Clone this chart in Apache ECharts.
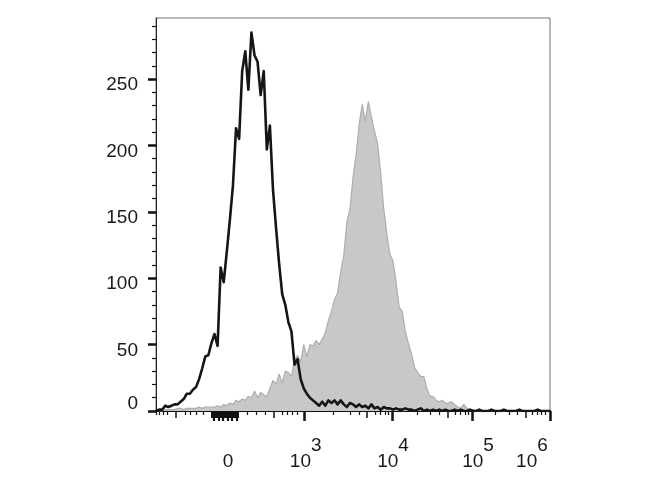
<!DOCTYPE html>
<html><head><meta charset="utf-8">
<script src="https://cdn.jsdelivr.net/npm/echarts@6/dist/echarts.min.js"></script>
<style>html,body{margin:0;padding:0;background:#fff}#c{width:670px;height:500px}</style>
</head><body><div id="c"></div>
<script>
// display channels (biexponential display scale, 0..1024)
const channels = [0,8,16,24,32,40,48,56,64,72,80,88,96,104,112,120,128,136,144,152,160,168,176,184,192,200,208,216,224,232,240,248,256,264,272,280,288,296,304,312,320,328,336,344,352,360,368,376,384,392,400,408,416,424,432,440,448,456,464,472,480,488,496,504,512,520,528,536,544,552,560,568,576,584,592,600,608,616,624,632,640,648,656,664,672,680,688,696,704,712,720,728,736,744,752,760,768,776,784,792,800,808,816,824,832,840,848,856,864,872,880,888,896,904,912,920,928,936,944,952,960,968,976,984,992,1000,1008,1016,1024];
// unstained / control (black outline)
const control = [0,1,1,4,3,4,5,5,7,9,
13,13,16,18,24,32,41,42,51,58,
49,108,97,120,144,170,213,205,256,271,
242,285,268,263,238,256,197,215,167,138,
111,88,80,67,60,35,39,24,17,13,
10,8,6,4,7,4,8,6,8,5,
8,5,3,6,5,3,5,3,4,2,
5,2,3,1,3,2,2,1,2,1,
1,2,1,1,0,1,2,0,1,0,
1,0,1,0,1,0,0,1,0,1,
0,0,1,0,0,1,0,0,0,1,
0,0,0,1,0,0,0,0,1,0,
0,0,0,0,1,0,0,0,0];
// stained sample (grey filled)
const stained = [0,0,0,1,1,1,1,2,2,1,
2,2,2,2,3,2,3,3,3,3,
4,3,5,4,6,5,8,7,9,8,
11,10,15,10,14,12,11,17,23,20,
28,21,30,29,26,38,42,37,50,41,
50,49,53,50,54,59,68,75,84,89,
105,117,142,152,176,193,216,231,218,233,
221,211,201,179,152,133,118,113,97,78,
75,60,51,43,33,29,26,26,17,11,
11,8,7,8,6,6,7,5,3,2,
5,2,1,1,0,0,0,0,0,0,
0,0,0,0,0,0,0,0,0,0,
0,0,0,0,0,0,0,0,0];

const yMax = 296;
const yMajorTicks = [0,50,100,150,200,250];
const yMinorTicks = [10,20,30,40,60,70,80,90,110,120,130,140,160,170,180,190,210,220,230,240,260,270,280,290];
const xDecadeTicks = [385,613,821,1024];
const xZeroLongTicks = [150,162,174,186,198,210];
const xZeroShortTicks = [146,154,158,166,170,178,182,190,194,202,206,213];
const xHalfTicks = [52,307,548,759,962];
const xMinorTicks = [0,8,18,29,75,88,104,122,237,260,283,328,341,354,367,460,504,528,569,582,595,603,678,712,736,777,790,803,811,881,917,938,977,990,1001,1011];
const xLabelPos = [187,389,616,837,977];
const xLabelText = ['0','10^3','10^4','10^5','10^6'];

const font = "'Liberation Sans', Arial, Helvetica, sans-serif";
const chart = echarts.init(document.getElementById('c'), null, {renderer:'canvas'});

function tickAxis(values, len, width) {
  return {type:'value', min:0, max:1024, position:'bottom',
    axisLine:{show:false}, splitLine:{show:false}, axisLabel:{show:false},
    axisTick:{show:true, customValues: values, length: len, lineStyle:{color:'#111', width: width}}};
}

const option = {
  animation: false,
  backgroundColor: '#fff',
  grid: {left:156, right:120, top:18, bottom:89, show:true, borderColor:'#707070', borderWidth:1, backgroundColor:'transparent'},
  xAxis: [
    {type:'value', min:0, max:1024, position:'bottom',
     axisLine:{show:true, lineStyle:{color:'#111', width:2}},
     splitLine:{show:false},
     axisTick:{show:true, customValues:xDecadeTicks, length:10, lineStyle:{color:'#111', width:2.5}},
     axisLabel:{show:true, customValues:xLabelPos, margin:25, fontFamily:font, fontSize:19, color:'#1a1a1a',
       formatter: function(v){
         let k = xLabelPos.indexOf(v);
         if (k < 0) return '';
         const t = xLabelText[k];
         if (t.indexOf('^') >= 0) { const p = t.split('^'); return '{b|' + p[0] + '}{s|' + p[1] + '}'; }
         return '{b|' + t + '}';
       },
       rich:{ b:{fontFamily:font, fontSize:19, color:'#1a1a1a', lineHeight:52},
              s:{fontFamily:font, fontSize:19, color:'#1a1a1a', verticalAlign:'top'} }
     }},
    tickAxis(xZeroLongTicks, 10, 2.2),
    tickAxis(xZeroShortTicks, 7, 2),
    tickAxis(xHalfTicks, 7, 1.5),
    tickAxis(xMinorTicks, 4, 1.2)
  ],
  yAxis: [
    {type:'value', min:0, max:yMax, position:'left',
     axisLine:{show:true, lineStyle:{color:'#222', width:1}},
     splitLine:{show:false},
     axisTick:{show:true, customValues:yMajorTicks, length:8, lineStyle:{color:'#111', width:2.5}},
     axisLabel:{show:true, customValues:yMajorTicks, margin:18, fontFamily:font, fontSize:19, color:'#1a1a1a',
       formatter: function(v){ return v === 0 ? '{z|0}' : '{n|' + v + '}'; },
       rich:{ n:{fontFamily:font, fontSize:19, color:'#1a1a1a', padding:[12,0,0,0]},
              z:{fontFamily:font, fontSize:19, color:'#1a1a1a', padding:[0,0,14,0]} }
     }},
    {type:'value', min:0, max:yMax, position:'left',
     axisLine:{show:false}, splitLine:{show:false}, axisLabel:{show:false},
     axisTick:{show:true, customValues:yMinorTicks, length:4, lineStyle:{color:'#111', width:1.2}}}
  ],
  series: [
    {type:'line', xAxisIndex:0, yAxisIndex:0, showSymbol:false, symbol:'none',
     data: channels.map((c,i)=>[c, stained[i]]),
     lineStyle:{color:'#adadad', width:1.2}, areaStyle:{color:'#c8c8c8', opacity:1}, z:2},
    {type:'line', xAxisIndex:0, yAxisIndex:0, showSymbol:false, symbol:'none',
     data: channels.map((c,i)=>[c, control[i]]),
     lineStyle:{color:'#151515', width:2.6, join:'round'}, z:3}
  ]
};
chart.setOption(option);
</script>
</body></html>
